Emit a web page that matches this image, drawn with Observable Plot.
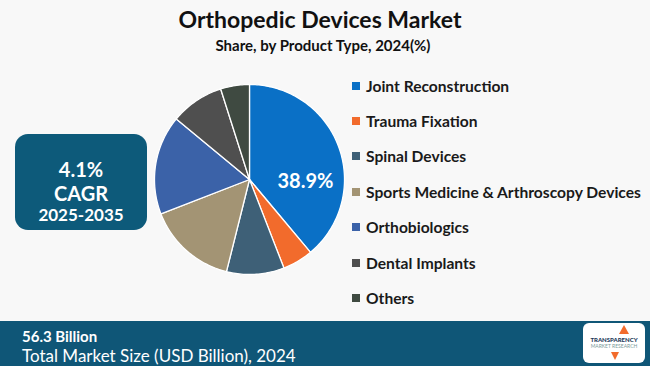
<!DOCTYPE html>
<html>
<head>
<meta charset="utf-8">
<script src="https://cdn.jsdelivr.net/npm/d3@7"></script>
<script src="https://cdn.jsdelivr.net/npm/@observablehq/plot@0.6"></script>
<style>
  html, body { margin: 0; padding: 0; }
  body { width: 650px; height: 366px; background: #f8f8f8; position: relative; overflow: hidden; font-family: Lato, "Open Sans", sans-serif; }
  #title { position: absolute; left: 0; width: 640px; top: 5px; text-align: center; font-size: 23px; font-weight: 700; color: #111; }
  #subtitle { position: absolute; left: 0; width: 646px; top: 36px; text-align: center; font-size: 15px; font-weight: 700; color: #111; }
  #pie { position: absolute; left: 149px; top: 79px; }
  #legend { position: absolute; left: 352px; top: 68px; }
  .item { height: 35.4px; display: flex; align-items: center; font-size: 15.6px; font-weight: 700; color: #1a1a1a; white-space: nowrap; }
  .sw { width: 8px; height: 8px; margin-right: 6px; }
  #cagr { position: absolute; left: 15px; top: 134px; width: 132px; height: 96px; border-radius: 13px; background: #0d5a7a; color: #fff; text-align: center; font-weight: 700; }
  #cagr div { position: absolute; left: 0; width: 100%; line-height: 1; }
  #footer { position: absolute; left: 0; top: 321px; width: 650px; height: 45px; background: #0f5677; color: #fff; }
  #footer div { line-height: 1; white-space: nowrap; }
  #logo { position: absolute; left: 583px; top: 323px; width: 62px; height: 40px; background: #fff; border-radius: 6px; }
</style>
</head>
<body>
<div id="title"></div>
<div id="subtitle"></div>
<div id="cagr"></div>
<div id="pie"></div>
<div id="legend"></div>
<div id="footer"></div>
<div id="logo"></div>
<script>
const titleText = "Orthopedic Devices Market";
const subtitleText = "Share, by Product Type, 2024(%)";
const categories = ["Joint Reconstruction", "Trauma Fixation", "Spinal Devices", "Sports Medicine & Arthroscopy Devices", "Orthobiologics", "Dental Implants", "Others"];
const shares = [38.9, 5.2, 9.8, 15.2, 16.9, 9.1, 4.9];
const colors = ["#0a70c6", "#f26b2c", "#3e6077", "#a39474", "#3b62a8", "#4f4f4f", "#3f4a41"];
const labelText = "38.9%";
const cagrLines = ["4.1%", "CAGR", "2025-2035"];
const footerValue = "56.3 Billion";
const footerLabel = "Total Market Size (USD Billion), 2024";

document.getElementById("title").textContent = titleText;
document.getElementById("subtitle").textContent = subtitleText;

// CAGR box
const cagr = document.getElementById("cagr");
const cagrTops = [25, 49, 72];
const cagrSizes = [20, 20, 17];
cagrLines.forEach((t, i) => {
  const d = document.createElement("div");
  d.textContent = t;
  d.style.top = cagrTops[i] + "px";
  d.style.fontSize = cagrSizes[i] + "px";
  cagr.appendChild(d);
});

// Legend
const legend = document.getElementById("legend");
categories.forEach((c, i) => {
  const it = document.createElement("div");
  it.className = "item";
  const sw = document.createElement("span");
  sw.className = "sw";
  sw.style.background = colors[i];
  it.appendChild(sw);
  it.appendChild(document.createTextNode(c));
  legend.appendChild(it);
});

// Footer
const footer = document.getElementById("footer");
footer.innerHTML = `<div style="position:absolute;left:22px;top:8px;font-size:15px;font-weight:700">${footerValue}</div>
<div style="position:absolute;left:22px;top:26px;font-size:17px;font-weight:400">${footerLabel}</div>`;
document.getElementById("logo").innerHTML = `<div style="position:absolute;left:0;width:100%;top:13px;text-align:center;font-size:6px;font-weight:900;color:#1d3a5a">TRANSPARENCY</div><div style="position:absolute;left:0;width:100%;top:20px;text-align:center;font-size:5px;color:#7a9a9a">MARKET RESEARCH</div><div style="position:absolute;left:36px;top:2px;width:0;height:0;border-left:5px solid transparent;border-right:5px solid transparent;border-bottom:9px solid #f26b2c"></div><div style="position:absolute;left:28px;top:29px;width:0;height:0;border-left:4px solid transparent;border-right:4px solid transparent;border-top:8px solid #f26b2c"></div>`;

// Pie geometry from shares
const R = 0.95;
const pieData = d3.pie().sort(null).value(d => d)(shares);
const pts = [];
pieData.forEach((s, i) => {
  const cat = categories[i];
  pts.push({cat, x: 0, y: 0});
  const n = Math.max(8, Math.ceil((s.endAngle - s.startAngle) / 0.02));
  for (let k = 0; k <= n; k++) {
    const a = s.startAngle + (s.endAngle - s.startAngle) * k / n;
    pts.push({cat, x: R * Math.sin(a), y: R * Math.cos(a)});
  }
});
const js = pieData[0];
const la = js.startAngle + (js.endAngle - js.startAngle) * 0.66;
const labels = [{t: labelText, x: 0.56 * Math.sin(la), y: 0.56 * Math.cos(la)}];

const chart = Plot.plot({
  width: 200, height: 200,
  margin: 0,
  x: {domain: [-1, 1], axis: null},
  y: {domain: [-1, 1], axis: null},
  color: {domain: categories, range: colors},
  style: {background: "transparent", overflow: "visible"},
  marks: [
    Plot.line(pts, {x: "x", y: "y", z: "cat", fill: "cat", stroke: "white", strokeWidth: 1.3, curve: "linear-closed", strokeLinejoin: "round"}),
    Plot.text(labels, {x: "x", y: "y", text: "t", fill: "white", fontSize: 20, fontWeight: 700, fontFamily: "Lato, sans-serif"})
  ]
});
document.getElementById("pie").appendChild(chart);
</script>
</body>
</html>
